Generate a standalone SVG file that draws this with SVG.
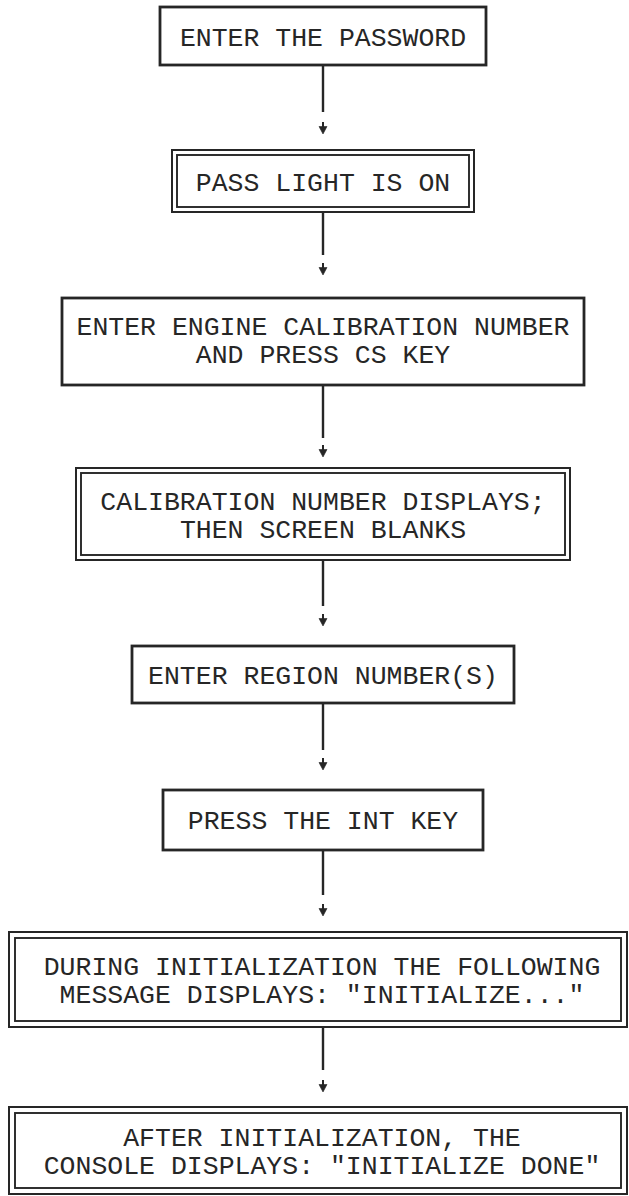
<svg xmlns="http://www.w3.org/2000/svg" xmlns:xlink="http://www.w3.org/1999/xlink" width="629" height="1196" viewBox="0 0 629 1196">
  <style>
    .bg { fill: #ffffff; }
    .box { fill: #ffffff; stroke: #262626; stroke-width: 2.8; }
    .outer { fill: #ffffff; stroke: #262626; stroke-width: 2; }
    .dbl { fill: none; stroke: #262626; stroke-width: 1.9; }
    .t { font-family: "Liberation Mono", "DejaVu Sans Mono", monospace; font-size: 26.5px; fill: #262626; text-anchor: middle; }
    .conn { stroke: #262626; stroke-width: 2.4; fill: none; }
    .tip { fill: #262626; stroke: #262626; }
  </style>
  <defs>
    <!-- small typed down-arrow placed just below each connector line -->
    <g id="tip">
      <line x1="0" y1="0" x2="0" y2="6" stroke-width="2"/>
      <polygon points="-4,4.5 4,4.5 0,12" stroke-width="0.6"/>
    </g>
  </defs>

  <rect class="bg" x="0" y="0" width="629" height="1196"/>

  <!-- connectors -->
  <g id="connectors">
    <line class="conn" x1="323" y1="65" x2="323" y2="112"/>
    <use class="tip" xlink:href="#tip" x="323" y="122"/>
    <line class="conn" x1="323" y1="212" x2="323" y2="255"/>
    <use class="tip" xlink:href="#tip" x="323" y="263"/>
    <line class="conn" x1="323" y1="385" x2="323" y2="438"/>
    <use class="tip" xlink:href="#tip" x="323" y="445"/>
    <line class="conn" x1="323" y1="560" x2="323" y2="606"/>
    <use class="tip" xlink:href="#tip" x="323" y="614"/>
    <line class="conn" x1="323" y1="703" x2="323" y2="750"/>
    <use class="tip" xlink:href="#tip" x="323" y="758"/>
    <line class="conn" x1="323" y1="850" x2="323" y2="895"/>
    <use class="tip" xlink:href="#tip" x="323" y="904"/>
    <line class="conn" x1="323" y1="1027" x2="323" y2="1070"/>
    <use class="tip" xlink:href="#tip" x="323" y="1080"/>
  </g>

  <g id="enter-password">
    <rect class="box" x="160" y="7" width="326" height="58"/>
    <text class="t" x="323" y="46">ENTER THE PASSWORD</text>
  </g>

  <g id="pass-light">
    <rect class="outer" x="172" y="150" width="302" height="62"/>
    <rect class="dbl" x="177" y="155" width="292" height="52"/>
    <text class="t" x="323" y="191">PASS LIGHT IS ON</text>
  </g>

  <g id="enter-calibration">
    <rect class="box" x="62" y="298" width="522" height="87"/>
    <text class="t" x="323" y="335">ENTER ENGINE CALIBRATION NUMBER</text>
    <text class="t" x="323" y="363">AND PRESS CS KEY</text>
  </g>

  <g id="calibration-displays">
    <rect class="outer" x="76" y="468" width="494" height="92"/>
    <rect class="dbl" x="81" y="473" width="484" height="82"/>
    <text class="t" x="323" y="510">CALIBRATION NUMBER DISPLAYS;</text>
    <text class="t" x="323" y="538">THEN SCREEN BLANKS</text>
  </g>

  <g id="enter-region">
    <rect class="box" x="132" y="646" width="382" height="57"/>
    <text class="t" x="323" y="684">ENTER REGION NUMBER(S)</text>
  </g>

  <g id="press-int">
    <rect class="box" x="163" y="790" width="320" height="60"/>
    <text class="t" x="323" y="829">PRESS THE INT KEY</text>
  </g>

  <g id="during-init">
    <rect class="outer" x="9" y="932" width="618" height="95"/>
    <rect class="dbl" x="15" y="938" width="606" height="83"/>
    <text class="t" x="322" y="975">DURING INITIALIZATION THE FOLLOWING</text>
    <text class="t" x="322" y="1003">MESSAGE DISPLAYS: "INITIALIZE..."</text>
  </g>

  <g id="after-init">
    <rect class="outer" x="9" y="1107" width="618" height="87"/>
    <rect class="dbl" x="15" y="1113" width="606" height="75"/>
    <text class="t" x="322" y="1146">AFTER INITIALIZATION, THE</text>
    <text class="t" x="322" y="1174">CONSOLE DISPLAYS: "INITIALIZE DONE"</text>
  </g>
</svg>
